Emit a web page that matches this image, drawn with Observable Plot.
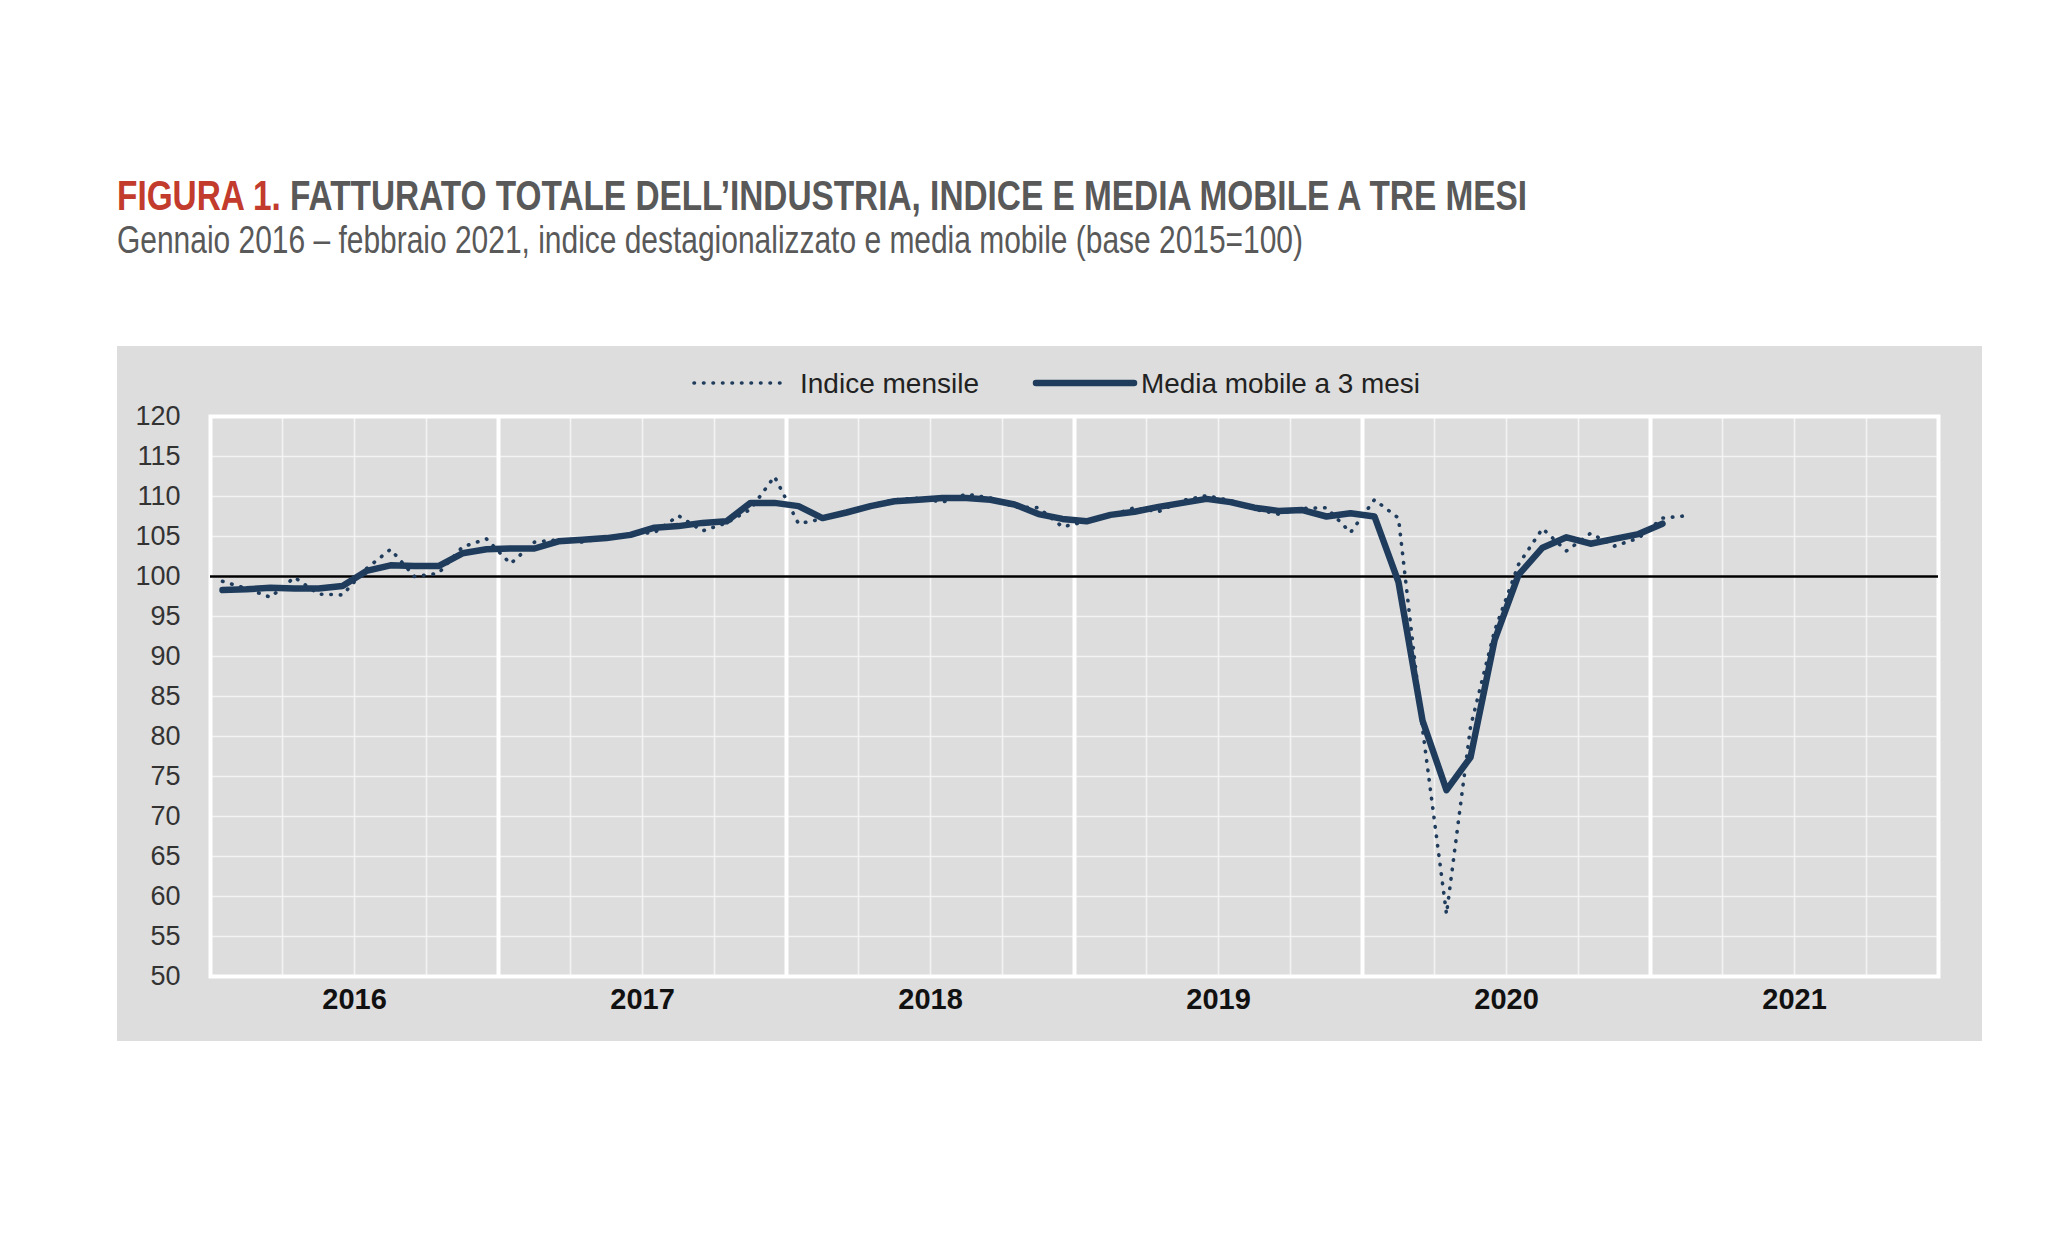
<!DOCTYPE html>
<html lang="it">
<head>
<meta charset="utf-8">
<script src="https://cdn.jsdelivr.net/npm/d3@7"></script>
<script src="https://cdn.jsdelivr.net/npm/@observablehq/plot@0.6"></script>
<style>
  html, body { margin: 0; padding: 0; background: #ffffff; width: 2048px; height: 1257px; overflow: hidden; }
  #page { position: relative; width: 2048px; height: 1257px; }
  .fit { position: absolute; white-space: nowrap; transform-origin: 0 0; line-height: 1; }
  #title { left: 117px; top: 174px; font-family: "Liberation Sans Narrow", "Liberation Sans", Arial, sans-serif; font-weight: bold; font-size: 43px; color: #595959; }
  #title .red { color: #c23b2c; }
  #subtitle { left: 117px; top: 221px; font-family: "Liberation Sans Narrow", "Liberation Sans", Arial, sans-serif; font-size: 38px; color: #595959; }
  #panel { position: absolute; left: 117px; top: 346px; width: 1865px; height: 695px; background: #dddddd; }
  #chart { position: absolute; left: 0; top: 54px; }
  .legtext { font-family: "Liberation Sans", Arial, sans-serif; font-size: 28px; color: #222; top: 370px; }
  .legsw { position: absolute; }
</style>
</head>
<body>
<div id="page">
  <div id="title" class="fit" data-w="1410"><span class="red">FIGURA 1.</span> FATTURATO TOTALE DELL’INDUSTRIA, INDICE E MEDIA MOBILE A TRE MESI</div>
  <div id="subtitle" class="fit" data-w="1186">Gennaio 2016 – febbraio 2021, indice destagionalizzato e media mobile (base 2015=100)</div>
  <div id="panel"><div id="chart"></div></div>
  <svg class="legsw" style="left:688px;top:373px" width="104" height="20">
    <line x1="6" y1="10" x2="98" y2="10" stroke="#1f3c5d" stroke-width="3.6" stroke-dasharray="0.5 9" stroke-linecap="round"/>
  </svg>
  <div class="fit legtext" data-w="179" style="left:800px">Indice mensile</div>
  <svg class="legsw" style="left:1030px;top:373px" width="110" height="20">
    <line x1="6" y1="10" x2="104" y2="10" stroke="#1f3c5d" stroke-width="6.5" stroke-linecap="round"/>
  </svg>
  <div class="fit legtext" data-w="279" style="left:1141px">Media mobile a 3 mesi</div>
</div>
<script>
// ---- Data ----
const anni = [2016, 2017, 2018, 2019, 2020, 2021];
const yTicks = [50, 55, 60, 65, 70, 75, 80, 85, 90, 95, 100, 105, 110, 115, 120];

// Indice mensile: gennaio 2016 – febbraio 2021
const indiceMensile = [
  99.4, 98.5, 97.4, 99.9, 97.8, 97.7, 101.0, 103.4, 100.0, 100.4, 103.7, 104.7,
  101.6, 104.3, 104.6, 104.3, 104.9, 105.3, 105.5, 107.6, 105.7, 106.7, 108.4, 112.5,
  106.6, 107.2, 108.0, 108.9, 109.6, 109.8, 109.3, 110.3, 109.8, 108.7, 108.6, 106.2,
  106.9, 107.6, 108.6, 108.1, 109.5, 110.1, 109.5, 108.4, 107.8, 108.5, 108.6, 105.5,
  109.6, 107.3, 81.0, 57.8, 81.2, 93.2, 101.5, 106.0, 103.2, 105.4, 103.8, 104.8,
  107.3, 107.6
];

// Media mobile a 3 mesi (centrata): gennaio 2016 – gennaio 2021
const mediaMobile = [
  98.3, 98.4, 98.6, 98.5, 98.5, 98.8, 100.7, 101.4, 101.3, 101.3, 102.9, 103.4,
  103.5, 103.5, 104.4, 104.6, 104.8, 105.2, 106.1, 106.3, 106.7, 106.9, 109.2, 109.2,
  108.8, 107.3, 108.0, 108.8, 109.4, 109.6, 109.8, 109.8, 109.6, 109.0, 107.8, 107.2,
  106.9, 107.7, 108.1, 108.7, 109.2, 109.7, 109.3, 108.6, 108.2, 108.3, 107.5, 107.9,
  107.5, 99.3, 82.0, 73.3, 77.4, 92.0, 100.2, 103.6, 104.9, 104.1, 104.7, 105.3,
  106.6
];

const COL = "#1f3c5d";
const start = anni[0];
const end = anni[anni.length - 1] + 1;
const tMese = i => start + (i + 0.5) / 12;
const datiIndice = indiceMensile.map((v, i) => ({ t: tMese(i), v }));
const datiMedia = mediaMobile.map((v, i) => ({ t: tMese(i), v }));
const trimestri = anni.flatMap(a => [a + 0.25, a + 0.5, a + 0.75]);
const confiniAnni = anni.slice(1);
const centriAnni = anni.map(a => a + 0.5);

const chart = Plot.plot({
  width: 1865,
  height: 641,
  marginTop: 16,
  marginBottom: 65,
  marginLeft: 93,
  marginRight: 44,
  style: { background: "transparent", fontFamily: "'Liberation Sans', Arial, sans-serif", overflow: "visible" },
  x: { domain: [start, end], axis: null, label: null },
  y: { domain: [50, 120], axis: null, label: null },
  marks: [
    Plot.ruleY(yTicks, { stroke: "#f3f3f3", strokeWidth: 1.6 }),
    Plot.ruleX(trimestri, { stroke: "#f3f3f3", strokeWidth: 1.6 }),
    Plot.ruleX(confiniAnni, { stroke: "#ffffff", strokeWidth: 4 }),
    Plot.frame({ stroke: "#ffffff", strokeWidth: 4 }),
    Plot.ruleY([100], { stroke: "#000000", strokeWidth: 2.5 }),
    Plot.line(datiIndice, { x: "t", y: "v", stroke: COL, strokeWidth: 3.6, strokeDasharray: "0.5 9", strokeLinecap: "round" }),
    Plot.line(datiMedia, { x: "t", y: "v", stroke: COL, strokeWidth: 6.5, strokeLinejoin: "round", strokeLinecap: "round" }),
    Plot.axisY(yTicks, { tickSize: 0, tickPadding: 30, fontSize: 27, color: "#333333", label: null }),
    Plot.axisX(centriAnni, { tickSize: 0, tickPadding: 12, fontSize: 29, fontWeight: "bold", color: "#111111", label: null, tickFormat: d => String(Math.floor(d)) })
  ]
});
document.getElementById("chart").appendChild(chart);

function fitAll() {
  document.querySelectorAll(".fit").forEach(el => {
    el.style.transform = "none";
    const w = el.getBoundingClientRect().width;
    const target = +el.dataset.w;
    if (w > 0 && target) el.style.transform = `scaleX(${target / w})`;
  });
}
fitAll();
if (document.fonts && document.fonts.ready) document.fonts.ready.then(fitAll);
</script>
</body>
</html>
